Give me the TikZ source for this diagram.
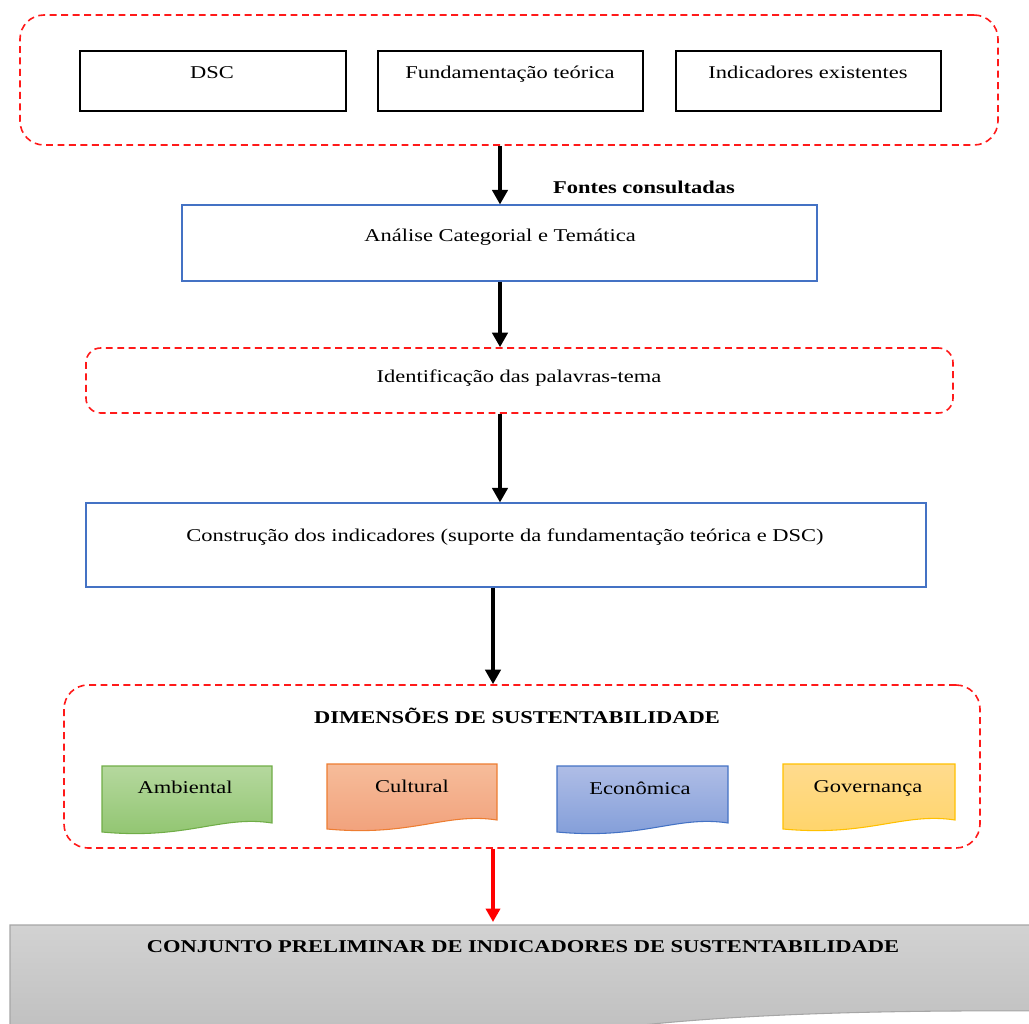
\documentclass[tikz,border=0pt]{standalone}
\usepackage{fontspec}
\setmainfont{Liberation Serif}[FakeStretch=1.25]
\usetikzlibrary{arrows.meta}

\definecolor{frameRed}{HTML}{FF1A1A}
\definecolor{boxBlue}{HTML}{4472C4}
\definecolor{grnTop}{HTML}{B5D89E}
\definecolor{grnBot}{HTML}{8FC46E}
\definecolor{grnLine}{HTML}{70AD47}
\definecolor{orgTop}{HTML}{F6BC9A}
\definecolor{orgBot}{HTML}{F1A07A}
\definecolor{orgLine}{HTML}{ED7D31}
\definecolor{bluTop}{HTML}{AFBDE6}
\definecolor{bluBot}{HTML}{809CD8}
\definecolor{yelTop}{HTML}{FFDB8E}
\definecolor{yelBot}{HTML}{FFD468}
\definecolor{yelLine}{HTML}{FFC000}
\definecolor{gryTop}{HTML}{D2D2D2}
\definecolor{gryBot}{HTML}{C0C0C0}
\definecolor{gryLine}{HTML}{A6A6A6}

% one drawing unit = one pixel of the page
\newcommand\pxl{0.75pt}

% wavy-bottom "document" outline: x1, top, x2, lowest bottom, style
\newcommand\docshape[5]{%
  \path[#5] (#1,#2) -- (#3,#2) -- (#3,{#4-12})
    .. controls ({#3-0.3*(#3-#1)},{#4-20}) and ({#1+0.5*(#3-#1)},{#4+5}) ..
    (#1,{#4-3}) -- cycle;}

\begin{document}
\begin{tikzpicture}[x=0.75pt,y=-0.75pt,
  font=\fontsize{13.5}{16}\selectfont,
  redframe/.style={draw=frameRed, dash pattern=on 5.2pt off 3.4pt,
    line width=1.2pt, rounded corners=18pt},
  srcbox/.style={draw=black, line width=1pt},
  stagebox/.style={draw=boxBlue, line width=0.8pt},
  txt/.style={anchor=base, inner sep=0pt},
  flow/.style={-{Triangle[length=11pt,width=11.5pt]}, line width=3.6pt},
]
\useasboundingbox (0,0) rectangle (1029,1024);
\clip (0,0) rectangle (1029,1024);

% sources
\node[redframe, minimum width=978*\pxl, minimum height=130*\pxl] (src) at (509,80) {};
\node[srcbox, minimum width=266*\pxl, minimum height=60*\pxl] (dsc) at (213,81) {};
\node[srcbox, minimum width=265*\pxl, minimum height=60*\pxl] (fund) at (510.5,81) {};
\node[srcbox, minimum width=265*\pxl, minimum height=60*\pxl] (ind) at (808.5,81) {};
\node[txt] (dsct) at (212,79) {DSC};
\node[txt] (fundt) at (510,79) {Fundamentação teórica};
\node[txt] (indt) at (808,79) {Indicadores existentes};
\node[txt, font=\fontsize{13.5}{16}\selectfont\bfseries] (fontes) at (644,193) {Fontes consultadas};

% analysis stages
\node[stagebox, minimum width=635*\pxl, minimum height=76*\pxl] (ana) at (499.5,243) {};
\node[txt] (anat) at (500,241) {Análise Categorial e Temática};

\node[redframe, rounded corners=11pt, minimum width=867*\pxl, minimum height=65*\pxl] (ident) at (519.5,380.5) {};
\node[txt] (identt) at (519,382) {Identificação das palavras-tema};

\node[stagebox, minimum width=840*\pxl, minimum height=84*\pxl] (constr) at (506,545) {};
\node[txt] (constrt) at (505,541) {Construção dos indicadores (suporte da fundamentação teórica e DSC)};

% dimensions
\node[redframe, minimum width=916*\pxl, minimum height=163*\pxl] (dim) at (522,766.5) {};
\node[txt, font=\fontsize{13.5}{16}\selectfont\bfseries] (dimt) at (517,723) {DIMENSÕES DE SUSTENTABILIDADE};

\docshape{102}{766}{272}{835}{draw=grnLine, line width=0.8pt, top color=grnTop, bottom color=grnBot}
\docshape{327}{764}{497}{832}{draw=orgLine, line width=0.8pt, top color=orgTop, bottom color=orgBot}
\docshape{557}{766}{728}{835}{draw=boxBlue, line width=0.8pt, top color=bluTop, bottom color=bluBot}
\docshape{783}{764}{955}{832}{draw=yelLine, line width=0.8pt, top color=yelTop, bottom color=yelBot}
\node[txt] (amb) at (185,793) {Ambiental};
\node[txt] (cul) at (412,792) {Cultural};
\node[txt] (eco) at (640,794) {Econômica};
\node[txt] (gov) at (868,792) {Governança};

% result
\path[draw=gryLine, line width=0.8pt, top color=gryTop, bottom color=gryBot]
  (10,925) -- (1045,925) -- (1045,1011)
  .. controls (880,1010) and (720,1014) .. (600,1030) -- (10,1030) -- cycle;
\coordinate (outtop) at (493,922);
\node[txt, font=\fontsize{13.5}{16}\selectfont\bfseries] (out) at (523,952)
  {CONJUNTO PRELIMINAR DE INDICADORES DE SUSTENTABILIDADE};

% connectors
\coordinate (axisA) at (500,0);
\coordinate (axisB) at (493,0);
\draw[flow] (axisA |- src.south) -- (axisA |- ana.north);
\draw[flow] (axisA |- ana.south) -- (axisA |- ident.north);
\draw[flow] (axisA |- ident.south) -- (axisA |- constr.north);
\draw[flow] (axisB |- constr.south) -- (axisB |- dim.north);
\draw[flow, draw=red, fill=red, line width=3pt,
  -{Triangle[length=10pt,width=10.5pt]}] (axisB |- dim.south) -- (outtop);
\end{tikzpicture}
\end{document}
